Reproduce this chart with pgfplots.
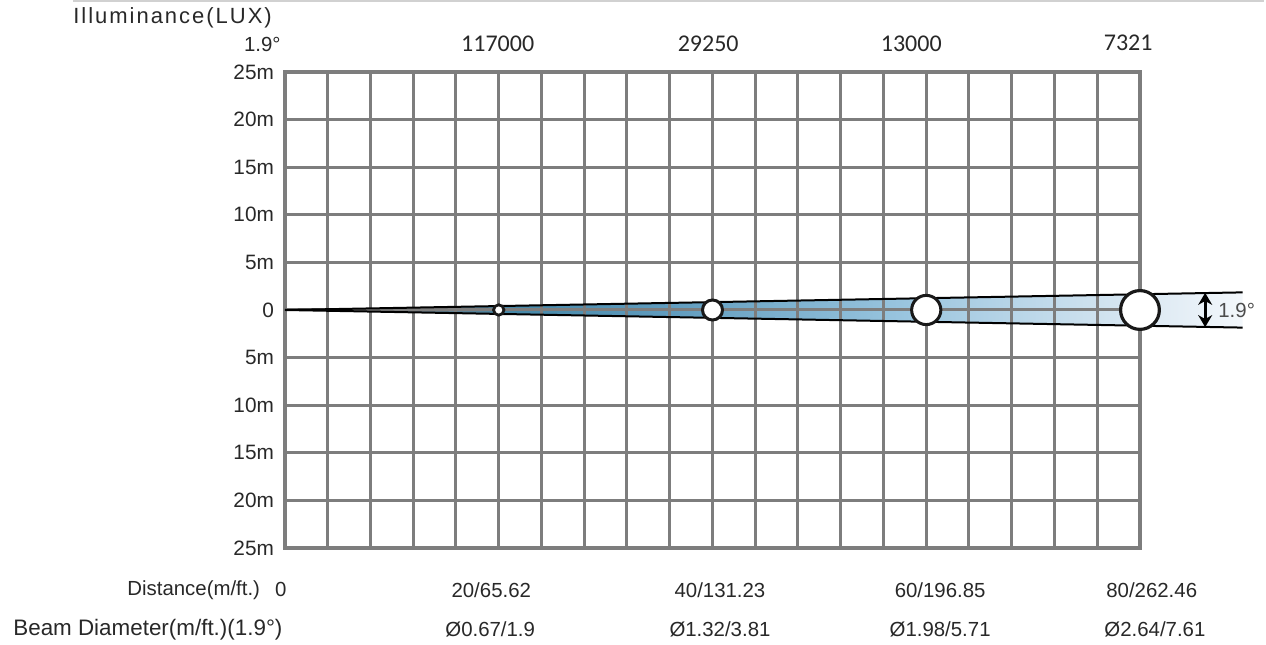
\documentclass[border=0pt]{standalone}
\usepackage{pgfplots}
\pgfplotsset{compat=1.18}
\usepackage{fontspec}
\setmainfont{Liberation Sans}
\newfontfamily\numfont{Carlito}
\usetikzlibrary{arrows.meta}

\definecolor{gridgray}{RGB}{125,125,125}
\definecolor{txt}{RGB}{40,40,40}
\definecolor{bA}{RGB}{95,105,112}
\definecolor{bB}{RGB}{108,122,132}
\definecolor{bC}{RGB}{70,136,168}
\definecolor{bD}{RGB}{96,156,190}
\definecolor{bE}{RGB}{152,196,222}
\definecolor{bF}{RGB}{220,233,243}
\definecolor{bG}{RGB}{243,247,251}
\pgfdeclarehorizontalshading{beam}{100bp}{color(0bp)=(bA); color(25bp)=(bA);
  color(32bp)=(bB); color(37bp)=(bC); color(45bp)=(bD); color(57bp)=(bE);
  color(70bp)=(bF); color(75bp)=(bG); color(100bp)=(bG)}

\begin{document}
\begin{tikzpicture}[font=\fontsize{10.2}{12}\selectfont, text=txt]
  \begin{axis}[
    set layers,
    scale only axis,
    width=427.5pt, height=238pt,
    xmin=0, xmax=80, ymin=-25, ymax=25,
    xtick={0,4,...,80}, xticklabels={},
    ytick={-25,-20,...,25},
    yticklabels={25m,20m,15m,10m,5m,0,5m,10m,15m,20m,25m},
    yticklabel style={font=\fontsize{10.4}{12}\selectfont, text=txt, xshift=-2pt},
    major tick length=0pt,
    grid=major,
    major grid style={gridgray, line width=1.5pt},
    axis line style={gridgray, line width=1.8pt},
    clip=false,
  ]
    % beam cone
    \addplot[draw=none, shade, shading=beam, on layer=axis background]
      coordinates {(0,0) (89.6,1.85) (89.6,-1.85) (0,0)};
    \addplot[black, line width=1pt] coordinates {(0,0) (89.6,1.85)};
    \addplot[black, line width=1pt] coordinates {(0,0) (89.6,-1.85)};

    % beam spots
    \addplot[only marks, mark=*, mark size=2.6pt, mark options={fill=white, draw=black!90, line width=1.4pt}] coordinates {(20,0)};
    \addplot[only marks, mark=*, mark size=5pt, mark options={fill=white, draw=black!90, line width=1.5pt}] coordinates {(40,0)};
    \addplot[only marks, mark=*, mark size=7.3pt, mark options={fill=white, draw=black!90, line width=1.5pt}] coordinates {(60,0)};
    \addplot[only marks, mark=*, mark size=9.7pt, mark options={fill=white, draw=black!90, line width=1.6pt}] coordinates {(80,0)};

    % beam angle arrow
    \draw[{Stealth[length=6pt,width=7pt]}-{Stealth[length=6pt,width=7pt]}, line width=1.6pt]
      (axis cs:86.1,-1.8) -- (axis cs:86.1,1.8);
    \node[anchor=west, inner sep=0pt, text=black!70] at (axis cs:87.3,0) {1.9°};

    % header
    \draw[black!18, line width=0.8pt] (axis cs:-19.84,32.45) -- (axis cs:91.6,32.45);
    \node[anchor=west, inner sep=0pt, font=\fontsize{11}{12}\selectfont\addfontfeature{LetterSpace=9}]
      at (axis cs:-19.84,30.67) {Illuminance(LUX)};
    \node[anchor=east, inner sep=0pt] at (axis cs:-0.37,27.94) {1.9°};
    \node[font=\numfont\fontsize{12}{14}\selectfont] at (axis cs:19.9,27.94) {117000};
    \node[font=\numfont\fontsize{12}{14}\selectfont] at (axis cs:39.6,27.94) {29250};
    \node[font=\numfont\fontsize{12}{14}\selectfont] at (axis cs:58.6,27.94) {13000};
    \node[font=\numfont\fontsize{12}{14}\selectfont] at (axis cs:78.9,28.1) {7321};

    % distance row
    \node[anchor=east, inner sep=0pt] at (axis cs:-2.3,-29.4) {Distance(m/ft.)};
    \node at (axis cs:-0.4,-29.4) {0};
    \node at (axis cs:19.3,-29.4) {20/65.62};
    \node at (axis cs:40.7,-29.4) {40/131.23};
    \node at (axis cs:61.3,-29.4) {60/196.85};
    \node at (axis cs:81.1,-29.4) {80/262.46};

    % beam diameter row
    \node[anchor=east, inner sep=0pt, font=\fontsize{11.2}{12}\selectfont] at (axis cs:-0.2,-33.6) {Beam Diameter(m/ft.)(1.9°)};
    \node at (axis cs:19.2,-33.6) {Ø0.67/1.9};
    \node at (axis cs:40.7,-33.6) {Ø1.32/3.81};
    \node at (axis cs:61.3,-33.6) {Ø1.98/5.71};
    \node at (axis cs:81.4,-33.6) {Ø2.64/7.61};
  \end{axis}
  \path (-142.5pt,-47pt) rectangle (490.5pt,274pt);
\end{tikzpicture}
\end{document}
